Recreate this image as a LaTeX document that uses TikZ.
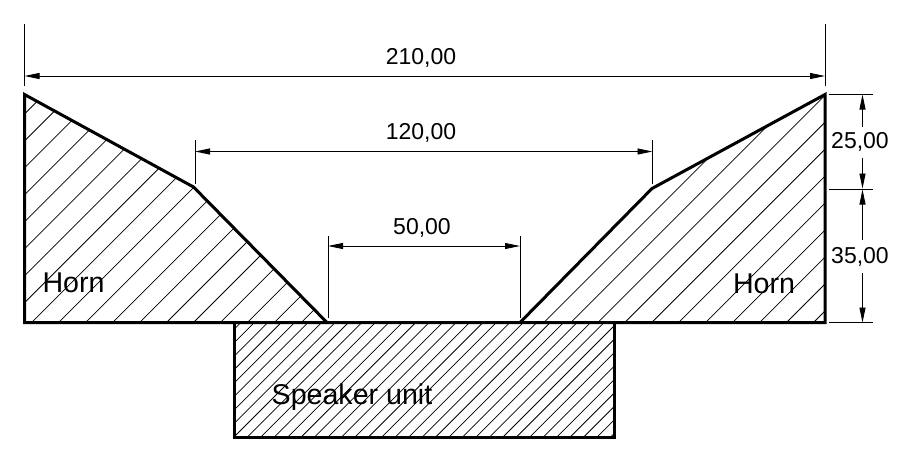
\documentclass[tikz,border=0pt]{standalone}
\usepackage{fontspec}
\setmainfont{Liberation Sans}
\usetikzlibrary{arrows.meta}
\tikzset{
  outline/.style={line width=3pt,line join=miter,line cap=rect},
  hatchline/.style={line width=0.75pt},
  extline/.style={line width=0.9pt},
  dimline/.style={line width=0.9pt},
  dimarrows/.style={dimline,{Stealth[inset=0pt,length=15pt,width=6pt]}-{Stealth[inset=0pt,length=15pt,width=6pt]}},
  tipend/.style={dimline,-{Stealth[inset=0pt,length=15pt,width=6pt]}},
  dimtext/.style={font=\fontsize{23}{23}\selectfont,inner sep=0pt},
  parttext/.style={font=\fontsize{28.6}{29}\selectfont,inner sep=0pt}
}
\begin{document}
\begin{tikzpicture}[x=1pt,y=-1pt]
\useasboundingbox (0,0) rectangle (904,459);
\fill[white] (0,0) rectangle (904,459);
% corner coordinates
\coordinate (LT) at (24.5,94.5);
\coordinate (LK) at (193.5,187);
\coordinate (LB) at (327,322.5);
\coordinate (LO) at (24.5,322.5);
\coordinate (RT) at (825,94.5);
\coordinate (RK) at (652,188.5);
\coordinate (RB) at (520,322.5);
\coordinate (RO) at (825,322.5);
\coordinate (SA) at (234,322.5);
\coordinate (SB) at (614,322.5);
\coordinate (SC) at (614,437);
\coordinate (SD) at (234,437);
% hatching
\begin{scope}
  \clip (LT) -- (LK) -- (LB) -- (LO) -- cycle;
  \foreach \k in {-9,...,12} \draw[hatchline] ({31.7+26.96*\k},322.5) -- ++(300,-300);
\end{scope}
\begin{scope}
  \clip (RT) -- (RK) -- (RB) -- (RO) -- cycle;
  \foreach \k in {-8,...,8} \draw[hatchline] ({651.7+26.96*\k},322.5) -- ++(300,-300);
\end{scope}
\begin{scope}
  \clip (SA) -- (SB) -- (SC) -- (SD) -- cycle;
  \foreach \k in {-10,...,40} \draw[hatchline] ({234+13.45*\k},437) -- ++(130,-130);
\end{scope}
% outlines
\draw[outline] (LT) -- (LK) -- (LB) -- (RB) -- (RK) -- (RT) -- (RO) -- (LO) -- cycle;
\draw[outline] (SA) -- (SD) -- (SC) -- (SB);
% extension lines
\coordinate (TL) at (24.5,24); \coordinate (TLb) at (24.5,86);
\coordinate (TR) at (825,24); \coordinate (TRb) at (825,86);
\draw[extline] (TL) -- (TLb);
\draw[extline] (TR) -- (TRb);
\draw[extline] (195,140) -- (195,184);
\draw[extline] (652.5,140) -- (652.5,184);
\draw[extline] (328,236) -- (328,318);
\draw[extline] (520,236) -- (520,318);
\draw[extline] (829,94.5) -- (873,94.5);
\draw[extline] (829,189) -- (873,189);
\draw[extline] (829,322.5) -- (873,322.5);
% dimension lines
\draw[dimarrows] (24.5,76) -- (825,76);
\draw[dimarrows] (195,151.5) -- (652.5,151.5);
\draw[dimarrows] (328,246) -- (520,246);
\draw[tipend] (862.5,127) -- (862.5,94.5);
\draw[tipend] (862.5,158) -- (862.5,188.5);
\draw[tipend] (862.5,240) -- (862.5,189.5);
\draw[tipend] (862.5,273) -- (862.5,322.5);
% labels
\node[dimtext] (d210) at (421,57.5) {210,00};
\node[dimtext] (d120) at (421,132.5) {120,00};
\node[dimtext] (d50) at (422,227.5) {50,00};
\node[dimtext] (d25) at (860,141.5) {25,00};
\node[dimtext] (d35) at (860,256.5) {35,00};
\node[parttext] (hl) at (73.5,283) {Horn};
\node[parttext] (hr) at (764,284) {Horn};
\node[parttext] (su) at (352,397) {Speaker unit};
\end{tikzpicture}
\end{document}
